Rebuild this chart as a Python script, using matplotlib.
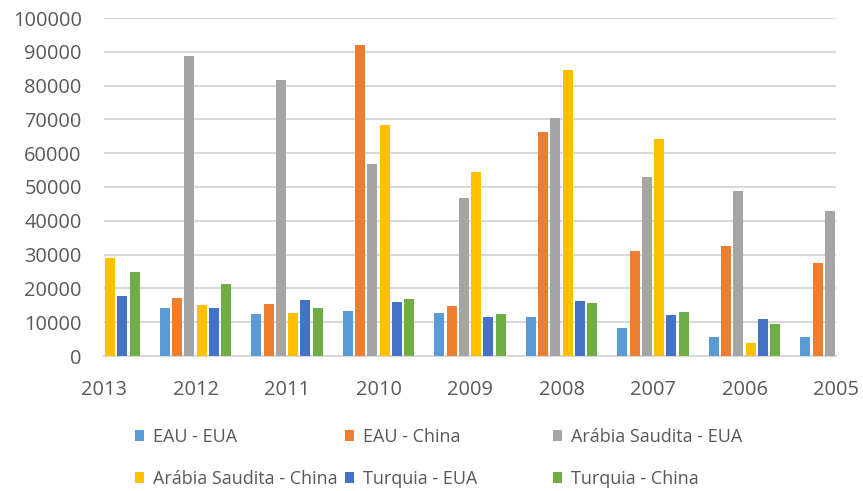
import matplotlib.pyplot as plt
import numpy as np

# anos no eixo x (do mais recente ao mais antigo)
anos = ['2013', '2012', '2011', '2010', '2009', '2008', '2007', '2006', '2005']

# séries (as barras cortadas nas bordas são estimativas)
eau_eua = [14000, 14100, 12400, 13200, 12800, 11600, 8400, 5700, 5700]
eau_china = [17000, 17100, 15300, 92100, 14800, 66300, 31000, 32600, 27400]
arabia_eua = [88000, 88800, 81600, 56800, 46800, 70500, 53000, 48900, 43000]
arabia_china = [29000, 15100, 12800, 68200, 54500, 84700, 64100, 3750, 4000]
turquia_eua = [17800, 14100, 16600, 15900, 11600, 16200, 12100, 11000, 11000]
turquia_china = [24800, 21200, 14200, 16900, 12400, 15600, 13000, 9400, 9000]

series = [eau_eua, eau_china, arabia_eua, arabia_china, turquia_eua, turquia_china]
nomes = ['EAU - EUA', 'EAU - China', 'Arábia Saudita - EUA',
         'Arábia Saudita - China', 'Turquia - EUA', 'Turquia - China']
cores = ['#5B9BD5', '#ED7D31', '#A5A5A5', '#FFC000', '#4472C4', '#70AD47']

plt.rcParams['font.family'] = ['Open Sans', 'DejaVu Sans']
texto = '#595959'

fig = plt.figure(figsize=(8.63, 4.91), dpi=100, facecolor='white')
ax = fig.add_axes([104/863, 1-356/491, (836-104)/863, (356-18)/491])

x = np.arange(len(anos))
passo = 0.134
largura = 0.11
barras = []
for i, (vals, cor) in enumerate(zip(series, cores)):
    b = ax.bar(x + (i - 2.5)*passo, vals, width=largura, color=cor, zorder=3)
    barras.append(b)

# eixo no estilo Excel: categorias sobre as marcas, grupos das pontas cortados
ax.set_xlim(0, len(anos) - 1)
ax.set_ylim(0, 100000)
ax.set_yticks(np.arange(0, 100001, 10000))
ax.set_xticks(x)
ax.set_xticklabels(anos)
ax.grid(axis='y', color='#D9D9D9', lw=1.5, zorder=0)
for s in ['top', 'right', 'left']:
    ax.spines[s].set_visible(False)
ax.spines['bottom'].set_color('#D9D9D9')
ax.spines['bottom'].set_linewidth(1.5)
ax.tick_params(axis='both', length=0, colors=texto, labelsize=14.4)
ax.tick_params(axis='x', pad=17)
ax.tick_params(axis='y', pad=16)

# legenda: uma coluna por vez para imitar o espaçamento do original
colunas_x = [135, 345, 553]
for c in range(3):
    hs = [barras[c], barras[c + 3]]
    ls = [nomes[c], nomes[c + 3]]
    fig.legend(hs, ls, loc='upper left', bbox_to_anchor=(colunas_x[c]/863, 1-428/491),
               frameon=False, fontsize=13, labelcolor=texto, handlelength=0.5,
               handleheight=0.5, handletextpad=0.5, labelspacing=1.33,
               borderaxespad=0, borderpad=0)

fig.savefig('out.png', dpi=100, facecolor='white')
